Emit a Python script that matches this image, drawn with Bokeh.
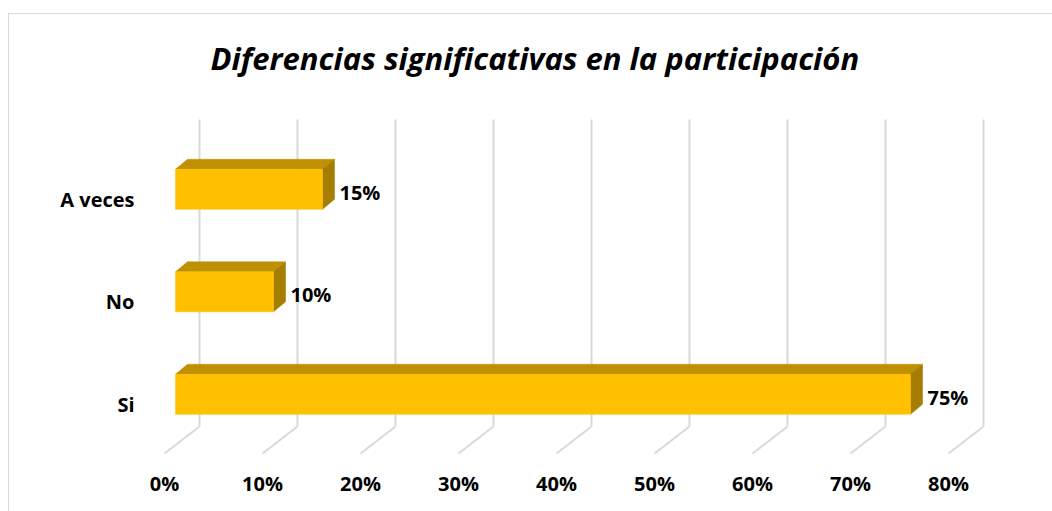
from bokeh.plotting import figure
from bokeh.models import FixedTicker, ColumnDataSource
from bokeh.embed import file_html
from bokeh.resources import INLINE
from bokeh.core.properties import value

# ---- data ----
categories = ["Si", "No", "A veces"]
values = [75, 10, 15]
x_ticks = [0, 10, 20, 30, 40, 50, 60, 70, 80]
x_tick_labels = ["0%", "10%", "20%", "30%", "40%", "50%", "60%", "70%", "80%"]
title_text = "Diferencias significativas en la participación"

# ---- style constants (3D projection in data units) ----
PX_X = 9.8      # px per percent
PX_Y = 102.5    # px per category
OX, OY = 8, 13  # chart box origin on the page
FRAME_L, FRAME_R, FRAME_T, FRAME_B = 147, 999, 87, 454
bar_shift_x = 11 / PX_X
depth_x = 12 / PX_X
depth_y = 10 / PX_Y
bar_shift_y = 9.7 / PX_Y
bar_half = 20 / PX_Y
wall_shift_x = 35 / PX_X
wall_top = (402.5 - 118) / PX_Y
wall_bottom = (402.5 - 425) / PX_Y
floor_front = (402.5 - 452) / PX_Y

FRONT = "#FFC000"
TOP = "#BF9000"
SIDE = "#A57D00"
GRID = "#D9D9D9"
FONT = "Open Sans"

W, H = 1052 - OX, 511 - OY
p = figure(width=W, height=H, output_backend="svg", toolbar_location=None,
           margin=(OY, 0, 0, OX),
           x_range=((FRAME_L - 163) / PX_X, (FRAME_R - 163) / PX_X),
           y_range=((402.5 - FRAME_B) / PX_Y, (402.5 - FRAME_T) / PX_Y),
           min_border_left=FRAME_L - OX, min_border_right=W - (FRAME_R - OX),
           min_border_top=FRAME_T - OY, min_border_bottom=H - (FRAME_B - OY),
           title=title_text)
p.styles = {"border-top": "1px solid #D9D9D9", "border-left": "1px solid #D9D9D9",
            "box-sizing": "border-box"}
p.outline_line_color = None
p.background_fill_color = "white"
p.border_fill_color = "white"
p.xgrid.visible = False
p.ygrid.visible = False

p.title.text_font = FONT
p.title.text_font_size = "31px"
p.title.text_font_style = "bold italic"
p.title.align = "left"
p.title.offset = 62
p.title.text_color = "black"
p.title.standoff = 19

# gridlines: back wall + floor diagonals
for v in x_ticks:
    p.line([v + wall_shift_x, v + wall_shift_x], [wall_top, wall_bottom], line_color=GRID, line_width=2)
    p.line([v + wall_shift_x, v], [wall_bottom, floor_front], line_color=GRID, line_width=2)

# bars
ys = list(range(len(categories)))
top_xs, top_ys, side_xs, side_ys = [], [], [], []
for i, v in enumerate(values):
    yc = ys[i] + bar_shift_y
    x0, x1 = bar_shift_x, v + bar_shift_x
    y0, y1 = yc - bar_half, yc + bar_half
    top_xs.append([x0, x1, x1 + depth_x, x0 + depth_x])
    top_ys.append([y1, y1, y1 + depth_y, y1 + depth_y])
    side_xs.append([x1, x1 + depth_x, x1 + depth_x, x1])
    side_ys.append([y1, y1 + depth_y, y0 + depth_y, y0])

p.patches(top_xs, top_ys, fill_color=TOP, line_color=TOP, line_width=0.5)
p.patches(side_xs, side_ys, fill_color=SIDE, line_color=SIDE, line_width=0.5)
src = ColumnDataSource(dict(
    left=[bar_shift_x] * len(values),
    right=[v + bar_shift_x for v in values],
    bottom=[y + bar_shift_y - bar_half for y in ys],
    top=[y + bar_shift_y + bar_half for y in ys],
    lx=[v + bar_shift_x + depth_x + 5 / PX_X for v in values],
    ly=[y + bar_shift_y - 3 / PX_Y for y in ys],
    lab=[f"{v}%" for v in values],
))
p.quad(left="left", right="right", bottom="bottom", top="top", source=src,
       fill_color=FRONT, line_color=FRONT, line_width=0.5)
p.text(x="lx", y="ly", text="lab", source=src, text_font=value(FONT), text_font_size="20px",
       text_font_style="bold", text_align="left", text_baseline="middle", text_color="black")

# axes
p.xaxis.ticker = FixedTicker(ticks=x_ticks)
p.xaxis.major_label_overrides = {t: l for t, l in zip(x_ticks, x_tick_labels)}
p.yaxis.ticker = FixedTicker(ticks=ys)
p.yaxis.major_label_overrides = {y: c for y, c in zip(ys, categories)}
for ax in (p.xaxis, p.yaxis):
    ax.axis_line_color = None
    ax.major_tick_line_color = None
    ax.minor_tick_line_color = None
    ax.major_label_text_font = FONT
    ax.major_label_text_font_size = "20px"
    ax.major_label_text_font_style = "bold"
    ax.major_label_text_color = "black"
p.xaxis.major_label_standoff = 8
p.yaxis.major_label_standoff = 8

open("out.html", "w").write(file_html(p, INLINE))
